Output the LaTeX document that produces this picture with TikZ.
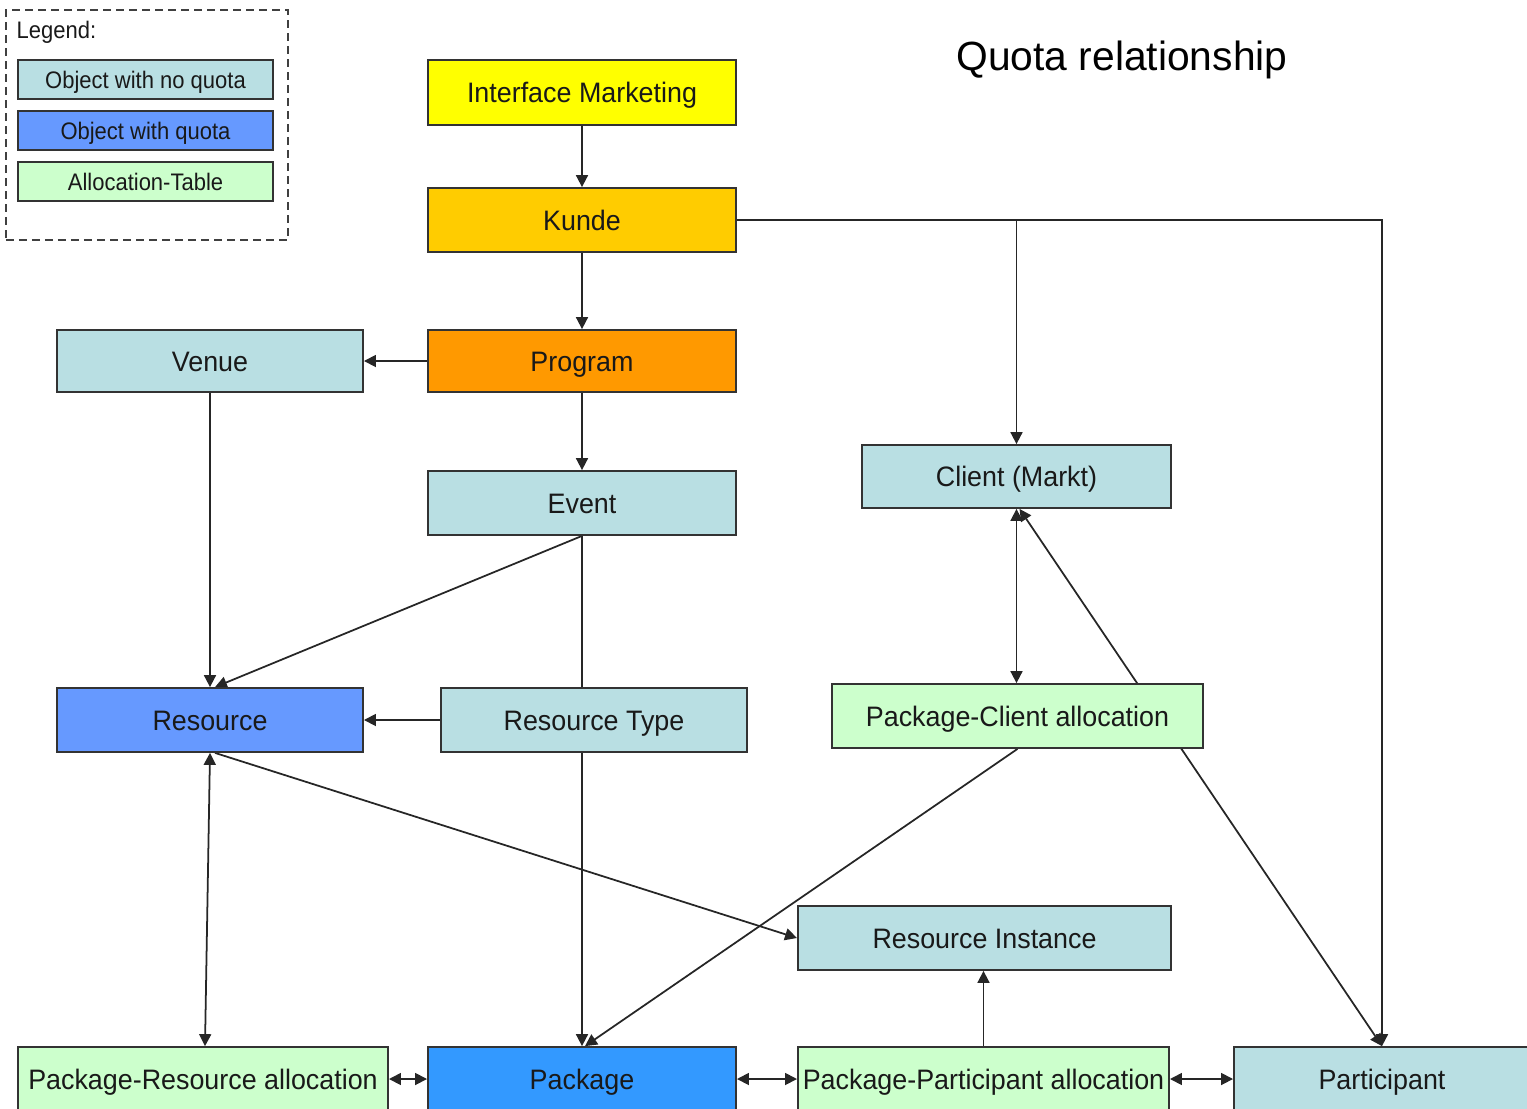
\documentclass[tikz,border=0pt]{standalone}
\usepackage{fontspec}
\setmainfont{Liberation Sans}
\newfontfamily\boxfont[FakeStretch=0.955]{Liberation Sans}
\newfontfamily\legfont[FakeStretch=0.92]{Liberation Sans}
\usetikzlibrary{arrows.meta,backgrounds}
\definecolor{noq}{HTML}{B9DFE3}
\definecolor{wq}{HTML}{6699FF}
\definecolor{pkg}{HTML}{3399FF}
\definecolor{alloc}{HTML}{CCFFCC}
\definecolor{yel}{HTML}{FFFF00}
\definecolor{kun}{HTML}{FFCC00}
\definecolor{prg}{HTML}{FF9900}
\tikzset{
  box/.style={draw=black!80, line width=0.5pt, inner sep=0pt, text=black!90,
    text height=5.7pt, text depth=0pt,
    font=\boxfont\fontsize{8}{10}\selectfont},
  legbox/.style={draw=black!80, line width=0.5pt, inner sep=0pt, text=black!90,
    text height=4.9pt, text depth=0pt,
    minimum width=2.55cm, minimum height=0.39cm, font=\legfont\fontsize{6.8}{8}\selectfont},
  conn/.style={draw=black!85, line width=0.5pt},
  tip/.style={-{Triangle[length=3.4pt,width=3.4pt]}},
  tiptwo/.style={{Triangle[length=3.4pt,width=3.4pt]}-{Triangle[length=3.4pt,width=3.4pt]}}
}
\begin{document}
\begin{tikzpicture}[x=0.01cm,y=-0.01cm]
\useasboundingbox (0,0) rectangle (1527,1109);
\clip (0,0) rectangle (1527,1109);

% legend
\node[draw=black!75, dash pattern=on 2.3pt off 1.4pt, line width=0.45pt,
  minimum width=2.82cm, minimum height=2.30cm, inner sep=0pt] (legend) at (147,125) {};
\node[anchor=west, inner sep=0pt, text=black!90, font=\legfont\fontsize{6.8}{8}\selectfont] (legtitle) at (16,32) {Legend:};
\node[legbox, fill=noq] (lg1) at (145.5,79.5) {Object with no quota};
\node[legbox, fill=wq] (lg2) at (145.5,130.5) {Object with quota};
\node[legbox, fill=alloc] (lg3) at (145.5,181.5) {Allocation-Table};

% title
\node[inner sep=0pt, text height=8.3pt, text depth=0pt, font=\fontsize{11.6}{14}\selectfont] (title) at (1122,56) {Quota relationship};

% boxes
\node[box,fill=yel,minimum width=3.08cm,minimum height=0.65cm] (im) at (582,92.5) {Interface Marketing};
\node[box,fill=kun,minimum width=3.08cm,minimum height=0.64cm] (kunde) at (582,220) {Kunde};
\node[box,fill=prg,minimum width=3.08cm,minimum height=0.62cm] (program) at (582,361) {Program};
\node[box,fill=noq,minimum width=3.06cm,minimum height=0.62cm] (venue) at (210,361) {Venue};
\node[box,fill=noq,minimum width=3.08cm,minimum height=0.64cm] (event) at (582,503) {Event};
\node[box,fill=noq,minimum width=3.09cm,minimum height=0.63cm] (client) at (1016.5,476.5) {Client (Markt)};
\node[box,fill=wq,minimum width=3.06cm,minimum height=0.64cm] (resource) at (210,720) {Resource};
\node[box,fill=noq,minimum width=3.06cm,minimum height=0.64cm] (rtype) at (594,720) {Resource Type};
\node[box,fill=alloc,minimum width=3.71cm,minimum height=0.64cm] (pca) at (1017.5,716) {Package-Client allocation};
\node[box,fill=noq,minimum width=3.73cm,minimum height=0.64cm] (rinst) at (984.5,938) {Resource Instance};
\node[box,fill=alloc,minimum width=3.70cm,minimum height=0.64cm] (pra) at (203,1079) {Package-Resource allocation};
\node[box,fill=pkg,minimum width=3.08cm,minimum height=0.64cm] (package) at (582,1079) {Package};
\node[box,fill=alloc,minimum width=3.71cm,minimum height=0.64cm] (ppa) at (983.5,1079) {Package-Participant allocation};
\node[box,fill=noq,minimum width=2.96cm,minimum height=0.64cm] (participant) at (1382,1079) {Participant};

% connectors
\begin{pgfonlayer}{background}
\draw[conn,tip] (im) -- (kunde);
\draw[conn,tip] (kunde) -- (program);
\draw[conn,tip] (program) -- (venue);
\draw[conn,tip] (program) -- (event);
\draw[conn,tip] (kunde.east) -| (participant.north);
\coordinate (kbr) at (client.north |- kunde.east);
\draw[conn,tip] (kbr) -- (client.north);
\draw[conn,tip] (venue) -- (resource);
\draw[conn,tip] (event.south) -- ([xshift=0.05cm]resource.north);
\draw[conn,tip] (event.south) -- (package.north);
\draw[conn,tip] (rtype) -- (resource);
\draw[conn,tiptwo] (client.south) -- (client.south |- pca.north);
\draw[conn,tiptwo] ([xshift=0.03cm]client.south) -- (participant.north);
\draw[conn,tip] (pca.south) -- ([xshift=0.03cm]package.north);
\draw[conn,tip] ([xshift=0.05cm]resource.south) -- (rinst.west);
\draw[conn,tiptwo] (resource.south) -- ([xshift=0.02cm]pra.north);
\draw[conn,tiptwo] (pra.east) -- (package.west);
\draw[conn,tiptwo] (package.east) -- (ppa.west);
\draw[conn,tiptwo] (ppa.east) -- (participant.west);
\draw[conn,tip] (ppa.north) -- (ppa.north |- rinst.south);
\end{pgfonlayer}
\end{tikzpicture}
\end{document}
